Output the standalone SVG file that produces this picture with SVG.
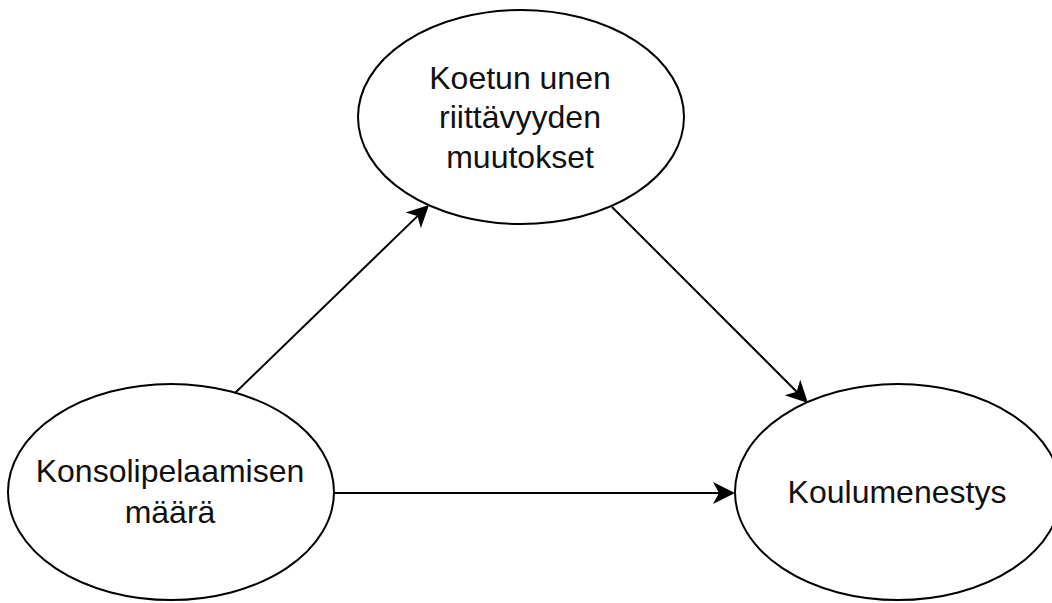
<svg xmlns="http://www.w3.org/2000/svg" width="1052" height="603" viewBox="0 0 1052 603">
  <style>
    .node { fill: #ffffff; stroke: #000000; stroke-width: 2; }
    .label { font-family: "Liberation Sans", Arial, sans-serif; font-size: 32px; fill: #111111; text-anchor: middle; }
    .edge { stroke: #000000; stroke-width: 2; fill: none; marker-end: url(#arrow); }
  </style>
  <defs>
    <marker id="arrow" markerUnits="userSpaceOnUse" markerWidth="24" markerHeight="24" viewBox="0 0 24 24" refX="8" refY="12" orient="auto">
      <path d="M24,12 L2,1 L8,12 L2,23 Z" fill="#000000"/>
    </marker>
  </defs>
  <rect width="1052" height="603" fill="#ffffff"/>
  <g id="connectors">
    <line class="edge" x1="235" y1="393" x2="417.5" y2="216.1"/>
    <line class="edge" x1="612" y1="207" x2="796.7" y2="391.7"/>
    <line class="edge" x1="334" y1="493" x2="719" y2="493"/>
  </g>
  <g id="node-uni">
    <ellipse class="node" cx="521" cy="117" rx="163" ry="107"/>
    <text class="label" x="520" y="89">Koetun unen</text>
    <text class="label" x="520" y="128">riittävyyden</text>
    <text class="label" x="520" y="168">muutokset</text>
  </g>
  <g id="node-konsoli">
    <ellipse class="node" cx="171" cy="492" rx="163" ry="108"/>
    <text class="label" x="170" y="482">Konsolipelaamisen</text>
    <text class="label" x="170" y="523">määrä</text>
  </g>
  <g id="node-koulu">
    <ellipse class="node" cx="898" cy="492" rx="163" ry="108"/>
    <text class="label" x="897" y="503">Koulumenestys</text>
  </g>
</svg>
